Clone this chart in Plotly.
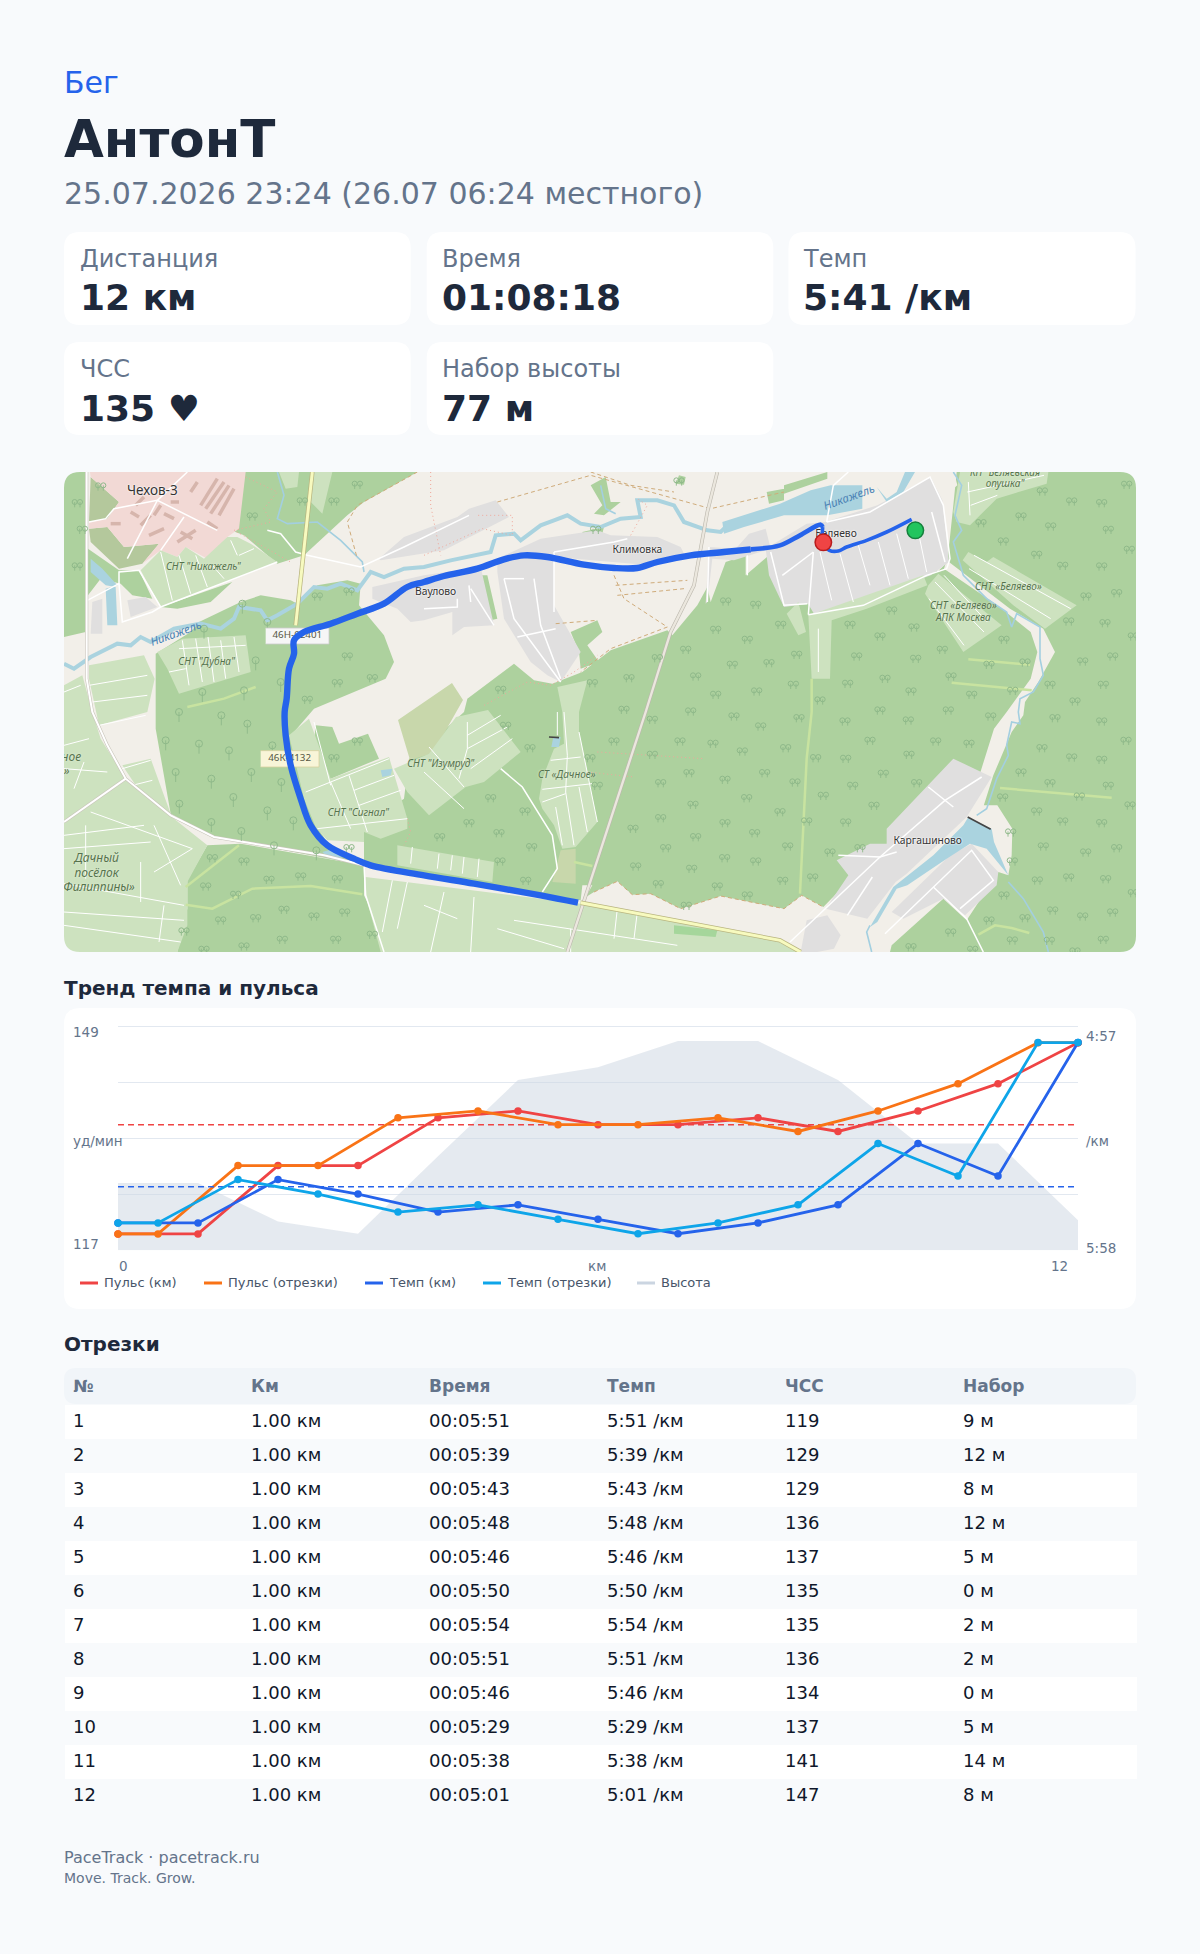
import plotly.graph_objects as go

W, H = 1200, 1954
BG = "#f8fafc"
DARK = "#1e293b"
MUTED = "#64748b"
FONT = "DejaVu Sans"
MAP_FONT = "Noto Sans"

# --- page text ---
sport = "Бег"
athlete = "АнтонТ"
started = "25.07.2026 23:24 (26.07 06:24 местного)"
card_labels = ["Дистанция", "Время", "Темп", "ЧСС", "Набор высоты"]
card_values = ["12 км", "01:08:18", "5:41 /км", "135 ♥", "77 м"]

# --- trend chart ---
km = [0, 1, 2, 3, 4, 5, 6, 7, 8, 9, 10, 11, 12]
hr_km = [119, 119, 129, 129, 136, 137, 135, 135, 136, 134, 137, 141, 147]
pace_km = [351, 351, 339, 343, 348, 346, 350, 354, 351, 346, 329, 338, 301]
seg_x = [0, 0.5, 1.5, 2.5, 3.5, 4.5, 5.5, 6.5, 7.5, 8.5, 9.5, 10.5, 11.5, 12]
hr_seg = [119, 119, 129, 129, 136, 137, 135, 135, 136, 134, 137, 141, 147, 147]
pace_seg = [351, 351, 339, 343, 348, 346, 350, 354, 351, 346, 329, 338, 301, 301]
elev_x = [0, 1, 2, 3, 4, 5, 6, 7, 8, 9, 10, 11, 12]
elevation = [10.5, 10.5, 4.5, 2.6, 14.7, 26.6, 28.6, 32.7, 32.7, 26.6, 16.7, 16.7, 4.7]
hr_mean = 135
pace_mean = 341
legend_names = ["Пульс (км)", "Пульс (отрезки)", "Темп (км)", "Темп (отрезки)", "Высота"]
legend_colors = ["#ef4444", "#f97316", "#2563eb", "#0ea5e9", "#cbd5e1"]
legend_left = [80, 204, 365, 483, 637]

# --- splits table ---
col_heads = ["№", "Км", "Время", "Темп", "ЧСС", "Набор"]
split_no = ["1", "2", "3", "4", "5", "6", "7", "8", "9", "10", "11", "12"]
split_km = ["1.00 км"] * 12
split_time = ["00:05:51", "00:05:39", "00:05:43", "00:05:48", "00:05:46", "00:05:50",
              "00:05:54", "00:05:51", "00:05:46", "00:05:29", "00:05:38", "00:05:01"]
split_pace = ["5:51 /км", "5:39 /км", "5:43 /км", "5:48 /км", "5:46 /км", "5:50 /км",
              "5:54 /км", "5:51 /км", "5:46 /км", "5:29 /км", "5:38 /км", "5:01 /км"]
split_hr = ["119", "129", "129", "136", "137", "135", "135", "136", "134", "137", "141", "147"]
split_gain = ["9 м", "12 м", "8 м", "12 м", "5 м", "0 м", "2 м", "2 м", "0 м", "5 м", "14 м", "8 м"]

# --- map geometry, map units are 1/3 of a picture pixel (0..3216 x 0..1440) ---
route_start = [(2543, 142), (2468, 180), (2408, 205), (2348, 225), (2323, 237), (2296, 235), (2278, 215), (2276, 165)]
route_mid = [(2276, 165), (2270, 158), (2208, 190), (2148, 220), (2060, 232)]
route_rest = [(2060, 232), (1980, 240), (1880, 250), (1780, 270), (1720, 288), (1650, 288), (1560, 278), (1450, 255),
              (1380, 250), (1320, 262), (1240, 290), (1140, 312), (1080, 330), (1030, 345), (960, 395), (880, 425),
              (800, 455), (720, 480), (690, 505), (690, 545), (675, 590), (668, 680), (662, 720), (665, 790),
              (680, 880), (710, 980), (740, 1060), (790, 1120), (870, 1160), (920, 1180), (1080, 1210), (1230, 1235),
              (1430, 1270), (1542, 1292)]
finish = (2278, 211)
start = (2554, 175)

forest = [
    [(0, 0), (65, 0), (65, 480), (0, 495)],
    [(540, 0), (1060, 0), (900, 90), (850, 130), (720, 250), (640, 275), (540, 190), (500, 175)],
    [(72, 230), (165, 295), (225, 295), (265, 380), (205, 370), (170, 335), (110, 320), (72, 370)],
    [(290, 405), (505, 330), (440, 390), (340, 410)],
    [(275, 545), (380, 480), (405, 450), (530, 390), (590, 370), (680, 385), (700, 395), (760, 340), (850, 325),
     (890, 335), (885, 400), (960, 490), (990, 570), (965, 620), (750, 710), (690, 780), (755, 1060), (800, 1125),
     (900, 1180), (450, 1095), (320, 1025), (275, 770), (275, 660)],
    [(430, 1120), (530, 1115), (900, 1180), (900, 1270), (940, 1350), (960, 1440), (340, 1440), (370, 1310), (370, 1225)],
    [(755, 760), (805, 765), (825, 815), (912, 785), (945, 860), (800, 920), (740, 915)],
    [(900, 1180), (900, 1060), (1020, 980), (1035, 860), (1080, 830), (1200, 720), (1210, 680), (1350, 575), (1410, 625),
     (1465, 635), (1555, 600), (1640, 535), (1810, 475), (1825, 490), (1900, 400), (1930, 345), (1940, 390), (1985, 270),
     (2045, 250), (2045, 310), (2115, 250), (2160, 240), (2228, 200), (2620, 90), (2680, 40), (2670, 0), (3216, 0),
     (3216, 1440), (1550, 1440), (1550, 1285)],
    [(1520, 480), (1600, 445), (1615, 480), (1570, 520), (1605, 570), (1550, 590), (1545, 540)],
    [(1580, 40), (1625, 15), (1640, 90), (1670, 90), (1620, 130), (1590, 125), (1615, 100)],
    [(1845, 10), (1865, 15), (1860, 38), (1835, 35)],
    [(1555, 180), (1620, 165), (1610, 205), (1565, 210)],
    [(2108, 60), (2160, 50), (2160, 85), (2115, 95)],
    [(2160, 40), (2290, 0), (2290, 20), (2160, 65)],
    [(1240, 310), (1270, 310), (1300, 440), (1280, 445)],
]
forest_dark = [
    [(80, 15), (165, 90), (130, 140), (75, 150)],
    [(75, 170), (130, 165), (180, 225), (285, 215), (235, 275), (165, 290), (80, 210)],
]
open_patches = [
    [(1550, 1285), (1590, 1260), (1660, 1228), (1705, 1268), (1760, 1265), (1850, 1310), (1970, 1272), (2160, 1310),
     (2213, 1270), (2278, 1305), (2400, 1180), (2600, 1000), (2800, 1000), (2845, 1070), (2843, 1150), (2833, 1210),
     (2803, 1200), (2708, 1345), (2638, 1280), (2483, 1420), (2478, 1440), (1550, 1440)],
    [(2648, 265), (2838, 410), (2938, 470), (2973, 540), (2923, 630), (2883, 690), (2878, 730), (2843, 780), (2788, 910),
     (2750, 1030), (2713, 1030), (2740, 930), (2790, 770), (2828, 720), (2900, 620), (2920, 540), (2900, 480), (2800, 400),
     (2640, 290)],
    [(2588, 0), (2678, 0), (2668, 100), (2650, 270), (2620, 300), (2590, 100)],
    [(1555, 1240), (1585, 1240), (1560, 1285), (1550, 1285)],
]
meadow = [[(1002, 744), (1164, 633), (1197, 684), (1107, 843), (1038, 864)],
          [(1490, 1135), (1535, 1130), (1535, 1235), (1465, 1230)]]
residential = [
    [(2105, 230), (2228, 155), (2283, 150), (2440, 100), (2600, 15), (2635, 85), (2655, 270), (2600, 310), (2400, 385),
     (2250, 425), (2232, 395), (2160, 405), (2115, 310)],
    [(1935, 225), (2015, 230), (2055, 185), (2105, 170), (2120, 230), (2010, 265), (1945, 260), (1930, 390), (1925, 395)],
    [(1300, 260), (1430, 200), (1600, 175), (1640, 190), (1780, 195), (1850, 225), (1860, 245), (1760, 280), (1470, 255),
     (1470, 400), (1550, 540), (1490, 630), (1450, 610), (1400, 570), (1320, 440), (1300, 300)],
    [(945, 260), (1020, 195), (1180, 135), (1215, 110), (1295, 85), (1335, 135), (1140, 235), (950, 265)],
    [(925, 345), (1080, 310), (1250, 285), (1290, 460), (1200, 465), (1165, 490), (1165, 420), (1080, 445), (1040, 450),
     (1000, 410), (925, 380)],
    [(2468, 1070), (2668, 860), (2783, 915), (2708, 1035), (2528, 1205), (2495, 1230), (2410, 1340), (2285, 1310),
     (2353, 1210), (2318, 1165), (2418, 1115), (2468, 1115)],
    [(2483, 1320), (2658, 1150), (2723, 1115), (2803, 1200), (2798, 1240), (2703, 1330), (2638, 1280), (2518, 1340)],
    [(190, 385), (245, 375), (280, 405), (200, 435)],
    [(85, 390), (115, 380), (115, 485), (80, 485)],
    [(2228, 1345), (2290, 1330), (2330, 1390), (2310, 1430), (2260, 1440), (2210, 1440)],
]
allotments = [
    [(230, 295), (290, 235), (340, 255), (365, 225), (420, 260), (490, 195), (520, 195), (560, 215), (640, 270), (290, 405)],
    [(280, 540), (355, 500), (545, 490), (560, 600), (345, 665), (310, 590)],
    [(75, 580), (240, 550), (272, 620), (250, 720), (105, 760), (75, 620)],
    [(0, 640), (55, 610), (85, 720), (110, 800), (185, 920), (0, 1050)],
    [(175, 880), (260, 860), (320, 1025), (225, 955)],
    [(0, 1050), (185, 925), (430, 1120), (370, 1230), (370, 1360), (340, 1440), (0, 1440)],
    [(675, 790), (735, 740), (800, 920), (975, 855), (1030, 1040), (1030, 1070), (950, 1100), (900, 1080), (900, 1110),
     (790, 1105), (755, 1065), (720, 980)],
    [(990, 890), (1095, 845), (1176, 735), (1272, 714), (1370, 840), (1260, 930), (1205, 945), (1095, 1030), (1030, 960)],
    [(1480, 645), (1570, 625), (1545, 720), (1545, 780), (1600, 1050), (1535, 1125), (1495, 1130), (1470, 1060),
     (1435, 1010), (1425, 980), (1435, 920), (1470, 830), (1500, 815), (1495, 720)],
    [(1000, 1120), (1290, 1170), (1285, 1230), (1000, 1180)],
    [(905, 1215), (1550, 1295), (2160, 1410), (2200, 1440), (950, 1440), (905, 1270)],
    [(645, 0), (705, 0), (700, 45), (665, 50)],
    [(745, 0), (805, 0), (775, 125), (740, 90)],
    [(2593, 340), (2623, 305), (2813, 460), (2698, 540), (2583, 365)],
    [(2696, 265), (2713, 240), (2768, 270), (2788, 255), (3038, 400), (2943, 470), (2848, 400)],
    [(2688, 0), (2953, 0), (2948, 35), (2798, 80), (2748, 130), (2718, 160), (2678, 150), (2668, 120)],
    [(2233, 430), (2248, 425), (2578, 310), (2590, 340), (2408, 410), (2303, 445), (2298, 620), (2243, 620)],
    [(2168, 425), (2203, 390), (2226, 480), (2203, 490)],
]
dark_plot = [[(1830, 1360), (1960, 1375), (1955, 1395), (1830, 1385)]]
town = [[(78, 0), (545, 0), (525, 170), (490, 195), (430, 260), (365, 225), (340, 255), (290, 235), (235, 275), (285, 215),
         (180, 225), (130, 165), (75, 170), (75, 150), (130, 140), (165, 90), (80, 15)]]
town_blocks = [
    [(410, 100), (460, 20)], [(425, 110), (480, 30)], [(440, 125), (495, 40)], [(465, 130), (510, 50)],
    [(270, 130), (290, 100)], [(230, 160), (260, 130)], [(255, 190), (300, 170)], [(340, 210), (395, 175)],
    [(350, 180), (385, 200)], [(200, 120), (225, 135)], [(140, 155), (170, 155)], [(320, 90), (345, 90)],
    [(380, 60), (400, 30)], [(300, 125), (330, 140)], [(215, 100), (240, 75)], [(430, 150), (460, 170)],
]
water = [
    [(1975, 150), (2148, 95), (2240, 55), (2300, 40), (2395, 40), (2395, 110), (2290, 130), (2160, 130), (2040, 165), (1980, 185)],
    [(2438, 45), (2468, 80), (2498, 60), (2523, 0), (2553, 0), (2518, 60), (2468, 90)],
    [(2713, 1035), (2783, 1070), (2790, 1110), (2833, 1210), (2768, 1130), (2718, 1115), (2648, 1160), (2530, 1240),
     (2498, 1250), (2440, 1350), (2418, 1365), (2488, 1245), (2608, 1150), (2698, 1060)],
    [(80, 260), (115, 290), (160, 340), (125, 350), (130, 460), (160, 460), (155, 345), (125, 340), (80, 300)],
    [(775, 1140), (810, 1130), (840, 1165), (790, 1155)],
    [(1468, 795), (1490, 795), (1485, 825), (1462, 825)],
    [(950, 895), (985, 890), (980, 910), (955, 915)],
]
river = [(0, 575), (30, 590), (80, 555), (130, 530), (160, 515), (200, 520), (230, 495), (260, 510), (330, 470), (410, 455),
         (470, 470), (510, 440), (525, 405), (590, 415), (610, 445), (640, 430), (700, 395), (750, 345), (790, 350), (830, 335),
         (880, 355), (920, 300), (960, 315), (1020, 290), (1080, 285), (1160, 265), (1250, 245), (1280, 240), (1295, 190),
         (1350, 185), (1370, 205), (1430, 160), (1470, 145), (1510, 130), (1550, 155), (1610, 165), (1670, 140), (1730, 135),
         (1720, 85), (1780, 85), (1830, 100), (1860, 150), (1930, 175), (1970, 180), (1985, 165)]
streams = [
    [(640, 0), (660, 70), (640, 140), (670, 155), (760, 150), (830, 205), (895, 270), (900, 300)],
    [(2668, 0), (2693, 40), (2673, 130), (2693, 175), (2668, 210), (2698, 310), (2768, 380), (2828, 420), (2843, 465), (2858, 425),
     (2928, 465), (2928, 560), (2938, 610), (2908, 660), (2868, 680), (2863, 720), (2868, 755), (2843, 750), (2828, 820),
     (2833, 850), (2798, 920), (2768, 1010), (2738, 1030)],
    [(2833, 1230), (2878, 1280), (2938, 1380), (2953, 1440)],
    [(2418, 1360), (2408, 1380), (2423, 1440)],
    [(1610, 40), (1625, 110), (1655, 125)],
]
dam = [[(2711, 1035), (2780, 1072)], [(1455, 795), (1485, 797)]]
tracks = [
    [(370, 705), (480, 680), (575, 645)], [(365, 1245), (525, 1120)],
    [(365, 1298), (445, 1310), (565, 1250), (740, 1242), (895, 1267)],
    [(2243, 620), (2243, 720), (2228, 860), (2208, 1265)], [(2713, 562), (2898, 578)], [(2663, 632), (2903, 655)],
    [(2808, 948), (3143, 977)], [(2743, 1388), (2793, 1360), (2843, 1368), (2896, 1383)], [(1530, 1170), (1585, 1182)],
]
red_paths = [
    [(545, 15), (640, 60), (600, 110), (620, 150), (510, 175), (680, 270)],
    [(1100, 0), (1100, 100), (1130, 250)], [(1080, 250), (1255, 170), (1345, 190), (1345, 130), (1240, 130)],
    [(1700, 190), (1750, 100), (1720, 80)], [(1600, 840), (1920, 860)], [(1570, 900), (1710, 915)],
    [(1260, 700), (1390, 630), (1460, 640), (1530, 600), (1600, 550)], [(1030, 1040), (1040, 1080), (1020, 1120)],
]
brown_paths = [
    [(1060, 0), (880, 100), (850, 150), (880, 260)], [(1300, 90), (1580, 10), (1940, 110), (2160, 60)],
    [(1650, 310), (1680, 380), (1810, 465), (1640, 530), (1550, 600)], [(1655, 340), (1870, 325)],
    [(1660, 370), (1860, 350)], [(1475, 455), (1600, 445)], [(1580, 0), (1700, 40), (1830, 60)],
    [(1590, 1260), (1660, 1228), (1705, 1268), (1760, 1265), (1850, 1310), (1970, 1272), (2160, 1310), (2213, 1270), (2278, 1305)],
]
white_main = [
    [(68, 0), (68, 620), (85, 720), (130, 820), (185, 920), (320, 1030), (450, 1095), (780, 1150), (900, 1180)],
    [(185, 920), (0, 1050)],
]
rail_road = [[(1960, 0), (1930, 120), (1890, 340), (1820, 480), (1745, 720), (1560, 1285), (1510, 1440)]]
yellow_roads = [[(745, 0), (695, 460)], [(1550, 1292), (2148, 1405), (2210, 1440)]]
white_minor = [
    [(70, 385), (165, 335), (165, 300), (225, 295), (290, 405), (640, 270)], [(290, 405), (265, 420), (175, 450), (165, 335)],
    [(610, 175), (650, 185), (695, 240), (730, 250), (890, 285), (1020, 225), (1215, 130)],
    [(2353, 0), (2308, 40), (2288, 150)],
    [(2288, 150), (2418, 120), (2598, 15), (2638, 100), (2658, 260), (2648, 290), (2588, 310), (2398, 400), (2233, 428)],
    [(2248, 240), (2233, 428)], [(2603, 120), (2643, 270)], [(2155, 310), (2248, 240)],
    [(2120, 240), (2160, 400), (2230, 395)],
    [(1470, 240), (1650, 210), (1690, 200)], [(1470, 240), (1470, 420)], [(1320, 320), (1380, 320)],
    [(1320, 320), (1350, 440), (1490, 630)], [(1410, 320), (1430, 460), (1490, 620)], [(1360, 495), (1475, 470)],
    [(1080, 410), (1180, 405), (1180, 380)], [(1220, 350), (1290, 460)], [(1215, 340), (1220, 390)],
    [(1310, 890), (1375, 945), (1465, 1090), (1480, 1190), (1435, 1260)],
    [(2178, 1410), (2283, 1310), (2448, 1155), (2643, 985), (2753, 915)], [(2593, 945), (2668, 1005)],
    [(2323, 1150), (2448, 1155), (2498, 1140)], [(2463, 1385), (2608, 1245), (2723, 1135), (2788, 1225), (2688, 1310)],
    [(2608, 1245), (2708, 1340), (2758, 1440)], [(75, 150), (125, 140), (150, 110), (280, 85), (460, 175)],
    [(280, 85), (190, 260)], [(360, 135), (290, 235)], [(370, 0), (280, 85)], [(900, 1180), (905, 1270), (960, 1440)],
    [(2425, 1215), (2350, 1330)], [(1935, 225), (1930, 390)], [(2050, 250), (2050, 310)],
]
plot_lines = [
    [(290, 240), (325, 385)], [(345, 250), (380, 365)], [(395, 250), (430, 345)], [(445, 280), (480, 320)], [(500, 205), (520, 250)],
    [(525, 250), (570, 230)], [(355, 505), (375, 640)], [(395, 500), (415, 630)], [(432, 495), (450, 630)], [(470, 505), (485, 620)],
    [(510, 495), (525, 600)], [(345, 530), (545, 520)], [(315, 600), (365, 590)], [(75, 640), (250, 610)], [(85, 690), (250, 670)],
    [(105, 760), (245, 730)], [(0, 660), (50, 640)], [(0, 820), (75, 800)], [(0, 890), (130, 900)], [(30, 950), (60, 870)],
    [(175, 890), (260, 865)], [(205, 940), (265, 925)], [(0, 1130), (260, 1110)], [(0, 1090), (240, 1060)], [(80, 1020), (385, 1130)],
    [(270, 1060), (350, 1240)], [(385, 1130), (270, 1200)], [(0, 1235), (360, 1300)], [(0, 1320), (360, 1345)], [(0, 1360), (350, 1410)],
    [(230, 1170), (230, 1290)], [(65, 1060), (65, 1220)], [(300, 1300), (285, 1410)], [(725, 960), (975, 860)], [(750, 750), (800, 940)],
    [(800, 930), (860, 1070)], [(855, 910), (910, 1080)], [(870, 955), (990, 910)], [(885, 1000), (1010, 955)], [(760, 1070), (1030, 1040)],
    [(1080, 900), (1200, 1010)], [(1095, 825), (1200, 945)], [(1210, 750), (1210, 830), (1185, 920)], [(1210, 790), (1310, 730)],
    [(1210, 830), (1330, 765)], [(1220, 890), (1345, 800)], [(1500, 720), (1510, 850), (1505, 960), (1530, 1120)],
    [(1545, 780), (1600, 1050)], [(1460, 865), (1550, 855)], [(1435, 952), (1585, 935)], [(1435, 990), (1505, 965)],
    [(1475, 1005), (1495, 1120)], [(1545, 945), (1570, 1080)], [(1125, 1145), (1120, 1190)], [(1165, 1150), (1160, 1195)],
    [(1200, 1155), (1195, 1205)], [(1245, 1160), (1240, 1215)], [(1045, 1125), (1040, 1175)], [(1350, 1345), (1840, 1420)],
    [(1300, 1370), (1500, 1430)], [(1520, 1440), (1520, 1370)], [(985, 1225), (955, 1380)], [(1030, 1230), (1000, 1370)],
    [(1140, 1260), (1100, 1440)], [(1230, 1275), (1220, 1440)], [(1080, 1300), (1180, 1340)], [(1660, 1310), (1650, 1400)],
    [(1720, 1320), (1710, 1400)], [(2268, 240), (2303, 385)], [(2328, 245), (2368, 390)], [(2383, 220), (2418, 340)],
    [(2443, 210), (2478, 340)], [(2498, 185), (2533, 320)], [(2563, 180), (2588, 300)], [(2263, 470), (2263, 600)],
    [(2613, 330), (2760, 480)], [(2640, 310), (2770, 450)], [(2595, 380), (2700, 520)], [(2730, 250), (3020, 410)],
    [(2715, 290), (2960, 440)], [(2713, 30), (2718, 130)], [(2710, 60), (2940, 10)], [(2720, 100), (2800, 70)],
    [(1480, 720), (1480, 790)],
]

# route shields
shield_white = [[(605, 468), (795, 468), (795, 516), (605, 516)]]
shield_cream = [[(590, 836), (765, 836), (765, 885), (590, 885)]]
shield_x = [700, 677]
shield_y = [492, 861]
shield_text = ["46Н-02401", "46К-4132"]

place_x = [265, 1115, 1720, 2316, 2591]
place_y = [60, 360, 235, 188, 1108]
place_text = ["Чехов-3", "Ваулово", "Климовка", "Беляево", "Каргашиново"]
place_size = [13.5, 10.3, 10.3, 10.3, 10.3]
snt_x = [418, 428, 1130, 883, 1508, 98, 98, 105, 22, 8, 2833, 2698, 2698, 2823, 2823]
snt_y = [285, 572, 878, 1023, 910, 1162, 1205, 1248, 858, 900, 347, 403, 440, 5, 38]
snt_text = ['СНТ "Никажель"', 'СНТ "Дубна"', 'СНТ "Изумруд"', 'СНТ "Сигнал"', "СТ «Дачное»",
            "Дачный", "посёлок", "Филиппины»", "ное", "»", "СНТ «Беляево»", "СНТ «Беляево»",
            "АПК Москва", 'КП "Беляевская', 'опушка"']
snt_size = [10, 10, 10, 10, 10, 12, 12, 12, 12, 12, 10, 10, 10, 10, 10]
river_labels = [("Никажель", 337, 482, -20), ("Никажель", 2356, 72, -20)]

single_trees = [(535, 395), (420, 470), (610, 450), (575, 565), (415, 660), (540, 655), (650, 630), (345, 720), (472, 730),
                (550, 755), (305, 805), (405, 815), (495, 835), (625, 820), (335, 900), (442, 920), (562, 900), (652, 930),
                (508, 975), (346, 995), (610, 1015), (442, 1050), (688, 1045), (532, 1077), (630, 1120), (757, 1135)]
pair_trees = [
    (40, 90), (110, 40), (55, 170), (40, 280), (880, 35), (810, 85), (565, 130), (715, 85), (760, 370), (855, 355), (850, 550),
    (820, 630), (925, 615), (730, 680), (445, 1155), (540, 1165), (615, 1220), (710, 1210), (820, 1218), (425, 1240), (515, 1265),
    (660, 1310), (575, 1335), (470, 1342), (750, 1330), (842, 1318), (360, 1375), (655, 1400), (540, 1420), (815, 1400), (925, 1385),
    (420, 1430), (880, 805), (810, 855), (855, 1125), (1845, 25), (1985, 385), (2075, 395), (1955, 470), (2050, 500), (2150, 455),
    (1865, 530), (2005, 575), (2115, 570), (1780, 555), (1895, 610), (1695, 615), (1585, 630), (1310, 650), (1955, 665), (2078, 655),
    (1680, 710), (1880, 715), (1595, 170), (1650, 805), (1765, 740), (1848, 805), (1947, 812), (2090, 760), (2010, 730), (2035, 835),
    (1765, 845), (1578, 855), (1875, 900), (2102, 900), (1600, 938), (1790, 930), (1983, 920), (2048, 975), (1887, 995), (1280, 975),
    (1383, 1015), (1790, 1035), (1983, 1050), (2148, 1017), (1215, 1050), (1305, 1080), (1127, 1092), (1707, 1067), (2072, 1080),
    (1895, 1092), (1403, 1122), (1805, 1125), (1982, 1155), (2075, 1165), (1308, 1165), (1715, 1180), (1883, 1187), (1385, 1223),
    (1783, 1233), (1960, 1240), (2050, 1267), (1867, 1298), (1398, 825), (1325, 758), (3188, 35), (3023, 85), (3113, 90), (2935, 55),
    (2871, 130), (2960, 160), (3133, 170), (2751, 150), (2818, 205), (2918, 245), (3196, 230), (2996, 278), (3113, 280), (3158, 360),
    (3066, 370), (3123, 450), (3014, 445), (3208, 490), (2820, 500), (2635, 530), (2448, 490), (2550, 463), (2483, 412), (2358, 455),
    (2378, 550), (2198, 545), (2555, 557), (3146, 550), (3056, 565), (2775, 575), (2883, 568), (2661, 610), (2463, 617), (2351, 632),
    (2188, 635), (2958, 635), (3118, 635), (2541, 655), (2723, 665), (2846, 653), (2268, 682), (3033, 685), (2448, 712), (2653, 712),
    (2205, 735), (2343, 745), (2533, 742), (2780, 730), (2973, 735), (3113, 745), (2418, 803), (2615, 805), (2715, 812), (3186, 803),
    (2165, 825), (2934, 825), (2345, 857), (2535, 845), (2255, 855), (3023, 853), (3113, 860), (2458, 902), (2871, 898), (2193, 928),
    (2366, 938), (2558, 930), (2958, 930), (3133, 938), (2278, 968), (2816, 973), (3046, 970), (2430, 998), (3198, 997), (2918, 1015),
    (2228, 1045), (2345, 1048), (2996, 1045), (3113, 1050), (2840, 1078), (2171, 1120), (2298, 1138), (2388, 1125), (2938, 1120),
    (3158, 1125), (3065, 1138), (2845, 1165), (2246, 1213), (2920, 1222), (3014, 1213), (3125, 1218), (2156, 1223), (2820, 1267),
    (3208, 1260), (2966, 1312), (3146, 1318), (3056, 1330), (2775, 1342), (2883, 1335), (2660, 1378), (2956, 1403), (3118, 1400),
    (2845, 1402), (2541, 1422), (2726, 1430), (3033, 1435),
]


def px(x):
    return x / W


def py(y):
    return 1 - y / H


def join(parts):
    xs, ys = [], []
    for part in parts:
        xs += [p[0] for p in part] + [None]
        ys += [p[1] for p in part] + [None]
    return xs, ys


def rounded(x0, y0, x1, y1, r):
    return (f"M{px(x0 + r)},{py(y0)} L{px(x1 - r)},{py(y0)} Q{px(x1)},{py(y0)} {px(x1)},{py(y0 + r)} "
            f"L{px(x1)},{py(y1 - r)} Q{px(x1)},{py(y1)} {px(x1 - r)},{py(y1)} "
            f"L{px(x0 + r)},{py(y1)} Q{px(x0)},{py(y1)} {px(x0)},{py(y1 - r)} "
            f"L{px(x0)},{py(y0 + r)} Q{px(x0)},{py(y0)} {px(x0 + r)},{py(y0)} Z")


def text(x, y, s, size, color, bold=False, anchor="left"):
    return dict(x=px(x), y=py(y), xref="paper", yref="paper", text=f"<b>{s}</b>" if bold else s,
                showarrow=False, xanchor=anchor, yanchor="middle",
                font=dict(family=FONT, size=size, color=color))


fig = go.Figure()


def add_area(parts, color):
    xs, ys = join(parts)
    fig.add_trace(go.Scatter(x=xs, y=ys, mode="lines", fill="toself", fillcolor=color,
                             line=dict(width=0, color=color), hoverinfo="skip", showlegend=False))


def add_lines(parts, color, width, dash=None, shape="linear"):
    xs, ys = join(parts)
    fig.add_trace(go.Scatter(x=xs, y=ys, mode="lines", line=dict(color=color, width=width, dash=dash, shape=shape),
                             hoverinfo="skip", showlegend=False))


# map, drawn back to front
add_area([[(0, 0), (3216, 0), (3216, 1440), (0, 1440)]], "#f2efe9")
add_area(forest, "#add19e")
add_area(open_patches, "#f2efe9")
add_area(forest_dark, "#b4c89c")
add_area(meadow, "#c8d7ab")
add_area(town, "#f2d9d5")
add_lines(town_blocks, "#d6b5ac", 3.5)
add_area(residential, "#e0dfdf")
add_area(allotments, "#cde2bf")
add_area(dark_plot, "#a5d69b")
add_lines(tracks, "#c8e3a0", 2.5)
add_area(water, "#aad3df")
add_lines([river], "#aad3df", 4)
add_lines(streams, "#a3cfe0", 1.6)
add_lines(dam, "#444444", 1.6)
add_lines(red_paths, "#f0a79a", 1, "1px,3px")
add_lines(brown_paths, "#cfab7a", 1, "4px,3px")
add_lines(plot_lines, "#ffffff", 1)
add_lines(white_minor, "#ffffff", 1.5)
add_lines(rail_road, "#bcb8ae", 3.6)
add_lines(rail_road, "#ebe7de", 2.4)
add_lines(white_main, "#c9c5bb", 3.2)
add_lines(white_main, "#ffffff", 2)
add_lines(yellow_roads, "#b9b57f", 4.5)
add_lines(yellow_roads, "#f7fabf", 3)

# trees: one crown on a stem, or two side by side
stems = [[(x, y), (x, y + 30)] for x, y in single_trees]
for x, y in pair_trees:
    stems += [[(x - 8, y), (x - 8, y + 16)], [(x + 8, y), (x + 8, y + 16)]]
add_lines(stems, "#8fb98a", 0.9)
fig.add_trace(go.Scatter(x=[x for x, y in single_trees], y=[y for x, y in single_trees], mode="markers",
                         hoverinfo="skip", showlegend=False,
                         marker=dict(symbol="circle-open", size=7, color="#8fb98a", line=dict(width=1))))
crown_x = [x + d for x, y in pair_trees for d in (-8, 8)]
crown_y = [y for x, y in pair_trees for d in (-8, 8)]
fig.add_trace(go.Scatter(x=crown_x, y=crown_y, mode="markers", hoverinfo="skip", showlegend=False,
                         marker=dict(symbol="circle-open", size=5, color="#8fb98a", line=dict(width=1))))

xs, ys = join(shield_white)
fig.add_trace(go.Scatter(x=xs, y=ys, mode="lines", fill="toself", fillcolor="#f6f6f6", hoverinfo="skip",
                         showlegend=False, line=dict(width=0.8, color="#cccccc")))
xs, ys = join(shield_cream)
fig.add_trace(go.Scatter(x=xs, y=ys, mode="lines", fill="toself", fillcolor="#f8f5d8", hoverinfo="skip",
                         showlegend=False, line=dict(width=0.8, color="#d8d2a0")))
fig.add_trace(go.Scatter(x=shield_x, y=shield_y, text=shield_text, mode="text", hoverinfo="skip", showlegend=False,
                         textfont=dict(family=MAP_FONT, size=9.8, color="#555544")))
fig.add_trace(go.Scatter(x=place_x, y=place_y, text=place_text, mode="text", hoverinfo="skip", showlegend=False,
                         textfont=dict(family=MAP_FONT, size=place_size, color="#333333",
                                       shadow="0px 0px 2px white, 0px 0px 2px white")))
fig.add_trace(go.Scatter(x=snt_x, y=snt_y, text=snt_text, mode="text", hoverinfo="skip", showlegend=False,
                         textfont=dict(family=MAP_FONT, size=snt_size, color="#56734d", style="italic",
                                       shadow="0px 0px 2px #e8f2e0")))

add_lines([route_start], "#2563eb", 3.6, shape="spline")
add_lines([route_mid], "#2563eb", 4.6, shape="spline")
add_lines([route_rest], "#2563eb", 6.4, shape="spline")
fig.add_trace(go.Scatter(x=[start[0]], y=[start[1]], mode="markers", hoverinfo="skip", showlegend=False,
                         marker=dict(size=16.5, color="#22c55e", line=dict(color="#15803d", width=1.5))))
fig.add_trace(go.Scatter(x=[finish[0]], y=[finish[1]], mode="markers", hoverinfo="skip", showlegend=False,
                         marker=dict(size=16.5, color="#ef4444", line=dict(color="#b91c1c", width=1.5))))

for tr in fig.data:
    tr.update(xaxis="x", yaxis="y", cliponaxis=True)

# trend chart: elevation on the base axis, then pulse and pace overlaid
fig.add_trace(go.Scatter(x=elev_x, y=elevation, mode="lines", fill="tozeroy", fillcolor="rgba(203,213,225,0.5)",
                         line=dict(width=0), xaxis="x2", yaxis="y2", hoverinfo="skip", showlegend=False))
fig.add_trace(go.Scatter(x=[0, 12], y=[hr_mean, hr_mean], mode="lines", xaxis="x2", yaxis="y3", showlegend=False,
                         line=dict(color="#ef4444", width=1.5, dash="6px,4px"), hoverinfo="skip"))
fig.add_trace(go.Scatter(x=km, y=hr_km, mode="lines+markers", xaxis="x2", yaxis="y3", name=legend_names[0],
                         line=dict(color=legend_colors[0], width=2.8), marker=dict(size=7.5, color=legend_colors[0]),
                         cliponaxis=False, showlegend=False))
fig.add_trace(go.Scatter(x=seg_x, y=hr_seg, mode="lines+markers", xaxis="x2", yaxis="y3", name=legend_names[1],
                         line=dict(color=legend_colors[1], width=2.8), marker=dict(size=7.5, color=legend_colors[1]),
                         cliponaxis=False, showlegend=False))
fig.add_trace(go.Scatter(x=[0, 12], y=[pace_mean, pace_mean], mode="lines", xaxis="x2", yaxis="y4", showlegend=False,
                         line=dict(color="#2563eb", width=1.5, dash="6px,4px"), hoverinfo="skip"))
fig.add_trace(go.Scatter(x=km, y=pace_km, mode="lines+markers", xaxis="x2", yaxis="y4", name=legend_names[2],
                         line=dict(color=legend_colors[2], width=2.8), marker=dict(size=7.5, color=legend_colors[2]),
                         cliponaxis=False, showlegend=False))
fig.add_trace(go.Scatter(x=seg_x, y=pace_seg, mode="lines+markers", xaxis="x2", yaxis="y4", name=legend_names[3],
                         line=dict(color=legend_colors[3], width=2.8), marker=dict(size=7.5, color=legend_colors[3]),
                         cliponaxis=False, showlegend=False))

# splits table
row_fill = ["#ffffff" if i % 2 == 0 else BG for i in range(12)]
fig.add_trace(go.Table(
    domain=dict(x=[px(65), px(1137)], y=[py(1813), py(1368)]),
    columnwidth=[178, 178, 178, 178, 178, 182],
    header=dict(values=[f"<b>{c}</b>" for c in col_heads], height=37, align="left",
                fill_color="rgba(0,0,0,0)", line_width=0,
                font=dict(family=FONT, size=17, color=MUTED)),
    cells=dict(values=[split_no, split_km, split_time, split_pace, split_hr, split_gain], height=34, align="left",
               fill_color=[row_fill] * 6, line_width=0,
               font=dict(family=FONT, size=18, color="#0f172a")),
))

shapes = []
card_boxes = [(64, 232, 410.7, 325), (426.7, 232, 773.3, 325), (788.5, 232, 1135.5, 325),
              (64, 342, 410.7, 435), (426.7, 342, 773.3, 435)]
for box in card_boxes:
    shapes.append(dict(type="path", path=rounded(*box, 16), xref="paper", yref="paper", layer="below",
                       fillcolor="#ffffff", line_width=0))
shapes.append(dict(type="path", path=rounded(64, 1008, 1136, 1309, 16), xref="paper", yref="paper", layer="below",
                   fillcolor="#ffffff", line_width=0))
shapes.append(dict(type="path", path=rounded(64, 1368, 1136, 1404, 12), xref="paper", yref="paper", layer="below",
                   fillcolor="#f1f5f9", line_width=0))
# corners of the map
shapes.append(dict(type="path", xref="paper", yref="paper", layer="above", line_width=0, fillcolor=BG, fillrule="evenodd",
                   path=f"M{px(60)},{py(468)} L{px(1140)},{py(468)} L{px(1140)},{py(956)} L{px(60)},{py(956)} Z "
                        + rounded(64, 472, 1136, 952, 16)))
for left, color in zip(legend_left, legend_colors):
    shapes.append(dict(type="rect", xref="paper", yref="paper", x0=px(left), x1=px(left + 18), y0=py(1284.5), y1=py(1281.5),
                       fillcolor=color, line_width=0, layer="above"))

annotations = [
    text(61.5, 82, sport, 30, "#2563eb"),
    text(62, 139, athlete, 51.5, DARK, bold=True),
    text(62, 194, started, 30, MUTED),
    text(62, 988, "Тренд темпа и пульса", 20, DARK, bold=True),
    text(62, 1344, "Отрезки", 20, DARK, bold=True),
    text(61.5, 1857, "PaceTrack · pacetrack.ru", 16, MUTED),
    text(61.5, 1878, "Move. Track. Grow.", 14, MUTED),
    text(71, 1032, "149", 13.5, MUTED),
    text(71, 1244, "117", 13.5, MUTED),
    text(71, 1141, "уд/мин", 13.5, MUTED),
    text(1084, 1036, "4:57", 13.5, MUTED),
    text(1084, 1248, "5:58", 13.5, MUTED),
    text(1084, 1141, "/км", 13.5, MUTED),
    text(117, 1266, "0", 13.5, MUTED),
    text(597, 1266, "км", 13.5, MUTED, anchor="center"),
    text(1059, 1266, "12", 13.5, MUTED, anchor="center"),
]
card_text_x = [78, 439.5, 800.5, 78, 439.5]
card_label_y = [259, 259, 259, 369, 369]
card_value_y = [297, 297, 297, 409, 409]
for x, ly, vy, label, value in zip(card_text_x, card_label_y, card_value_y, card_labels, card_values):
    annotations.append(text(x, ly, label, 24, MUTED))
    annotations.append(text(x, vy, value, 36, DARK, bold=True))
for left, name in zip(legend_left, legend_names):
    annotations.append(text(left + 22, 1282, name, 13, "#475569"))
for name, u, v, angle in river_labels:
    annotations.append(dict(x=px(64 + u / 3), y=py(472 + v / 3), xref="paper", yref="paper", text=f"<i>{name}</i>",
                            showarrow=False, textangle=angle, xanchor="center", yanchor="middle",
                            font=dict(family=MAP_FONT, size=11.3, color="#4a82b5")))

hidden = dict(visible=False, fixedrange=True)
fig.update_layout(
    width=W, height=H, autosize=False, margin=dict(l=0, r=0, t=0, b=0),
    paper_bgcolor=BG, plot_bgcolor="rgba(0,0,0,0)", showlegend=False, font=dict(family=FONT),
    xaxis=dict(hidden, domain=[px(64), px(1136)], range=[0, 3216], anchor="y"),
    yaxis=dict(hidden, domain=[py(952), py(472)], range=[1440, 0], anchor="x"),
    xaxis2=dict(hidden, domain=[px(118), px(1078)], range=[0, 12], anchor="y2"),
    # the axes run 4 px past the top grid line, plotly drops a grid line sitting on the very end of an axis
    yaxis2=dict(domain=[py(1250.3), py(1022.3)], range=[0, 35.625], anchor="x2", fixedrange=True, zeroline=False,
                showline=False, ticks="", showticklabels=False, showgrid=True, gridcolor="#e2e8f0", gridwidth=1,
                tickvals=[8.75, 17.5, 26.25, 35]),
    yaxis3=dict(hidden, overlaying="y2", range=[116.6, 149.986], anchor="x2"),
    yaxis4=dict(hidden, overlaying="y2", range=[358.6, 295.39], anchor="x2"),
    shapes=shapes, annotations=annotations,
)

fig.write_html("out.html", config={"displayModeBar": False},
               post_script="document.body.style.margin='0';document.body.style.background='#f8fafc';")
